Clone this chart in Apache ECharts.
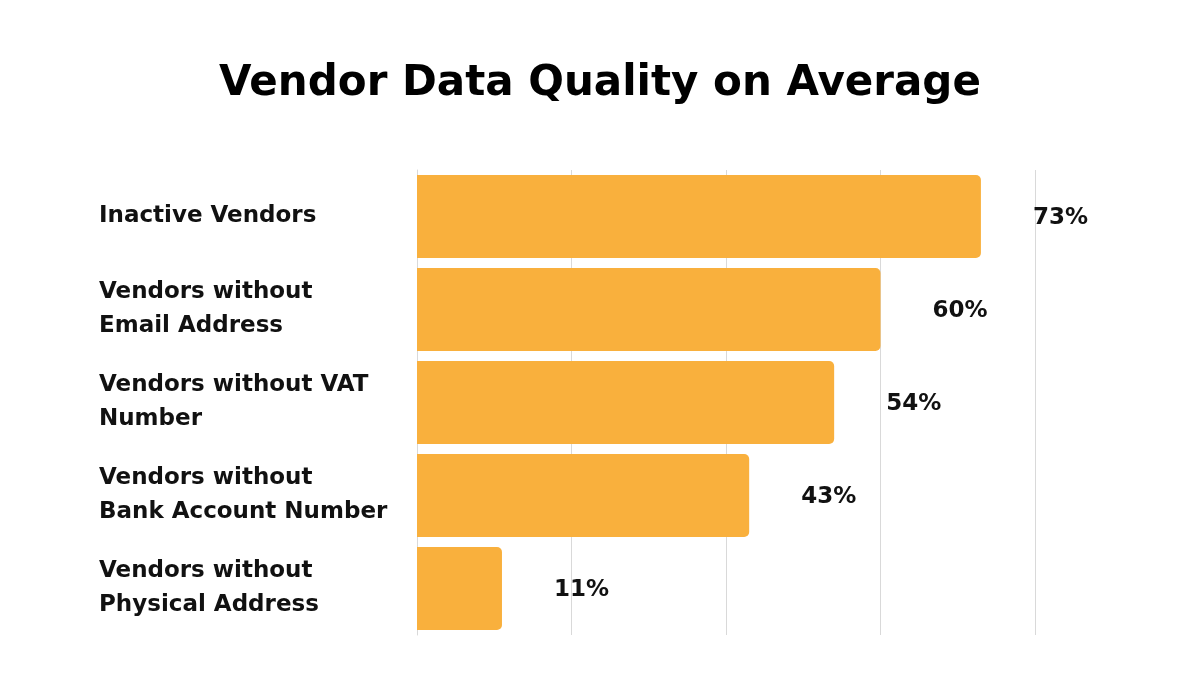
<!DOCTYPE html>
<html>
<head>
<meta charset="utf-8">
<script src="https://cdn.jsdelivr.net/npm/echarts@6/dist/echarts.min.js"></script>
<style>
  html, body { margin: 0; padding: 0; background: #fff; }
  #chart { width: 1200px; height: 700px; }
</style>
</head>
<body>
<div id="chart"></div>
<script>
var categories = [
    'Inactive Vendors',
    'Vendors without\nEmail Address',
    'Vendors without VAT\nNumber',
    'Vendors without\nBank Account Number',
    'Vendors without\nPhysical Address'
];
var values = [73, 60, 54, 43, 11];

var myChart = echarts.init(document.getElementById('chart'));
var option = {
    backgroundColor: '#fff',
    title: {
        text: 'Vendor Data Quality on Average',
        left: 'center',
        top: 58,
        textStyle: {
            fontFamily: 'DejaVu Sans',
            fontWeight: 'bold',
            fontSize: 42,
            color: '#000'
        }
    },
    grid: {
        left: 417,
        right: 165,
        top: 170,
        bottom: 65
    },
    xAxis: {
        type: 'value',
        min: 0,
        max: 80,
        interval: 20,
        axisLabel: {show: false},
        axisTick: {show: false},
        axisLine: {show: false},
        splitLine: {
            lineStyle: {color: '#d9d9d9', width: 1}
        }
    },
    yAxis: {
        type: 'category',
        inverse: true,
        data: categories,
        axisTick: {show: false},
        axisLine: {
            show: true,
            lineStyle: {color: '#d9d9d9', width: 1}
        },
        axisLabel: {
            align: 'left',
            margin: 318,
            fontFamily: 'DejaVu Sans',
            fontWeight: 'bold',
            fontSize: 23,
            lineHeight: 34,
            color: '#111'
        }
    },
    series: [{
        type: 'bar',
        data: values,
        barCategoryGap: '11%',
        itemStyle: {
            color: '#F9B03D',
            borderRadius: [0, 5, 5, 0]
        },
        label: {
            show: true,
            position: 'right',
            distance: 52,
            offset: [0, 2],
            formatter: '{c}%',
            fontFamily: 'DejaVu Sans',
            fontWeight: 'bold',
            fontSize: 23,
            color: '#111'
        }
    }]
};
myChart.setOption(option);
</script>
</body>
</html>
